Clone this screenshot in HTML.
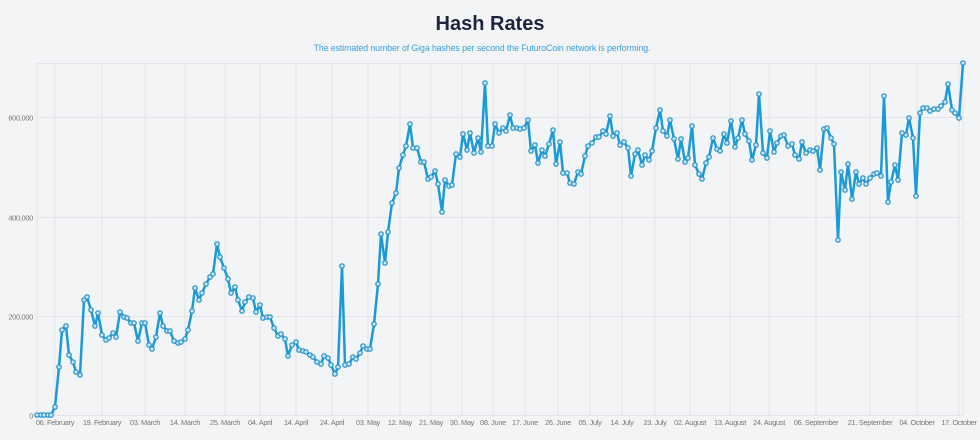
<!DOCTYPE html>
<html><head><meta charset="utf-8"><style>
body{margin:0;background:#f3f4f6;width:980px;height:435px;overflow:hidden;font-family:"Liberation Sans",sans-serif}
</style></head><body>
<svg id="s" width="980" height="435" xmlns="http://www.w3.org/2000/svg">
<rect width="980" height="435" fill="#f3f4f6"/>
<text x="490" y="30" text-anchor="middle" font-family="Liberation Sans,sans-serif" font-weight="bold" font-size="20" fill="#1c2540">Hash Rates</text>
<text x="482" y="51" text-anchor="middle" font-family="Liberation Sans,sans-serif" font-size="8.8" fill="#3a9fd8" letter-spacing="-0.1">The estimated number of Giga hashes per second the FuturoCoin network is performing.</text>
<g id="grid" stroke="#e2e4e7" stroke-width="1"></g>
<g id="lab" font-family="Liberation Sans,sans-serif" font-size="7.4" fill="#777" letter-spacing="-0.3"></g>
<polyline id="ln" fill="none" stroke="#1a9bd7" stroke-width="2.5" stroke-linejoin="round"/>
<g id="pts" fill="#cfe6f3" stroke="#1a8fcc" stroke-width="1.2"></g>
</svg>
<script>
var NS="http://www.w3.org/2000/svg";
function el(p,t,a,txt){var e=document.createElementNS(NS,t);for(var k in a)e.setAttribute(k,a[k]);if(txt)e.textContent=txt;document.getElementById(p).appendChild(e);}
var xs=[[55,"06. February"],[102,"19. February"],[145,"03. March"],[185,"14. March"],[225,"25. March"],[260,"04. April"],[296,"14. April"],[332,"24. April"],[368,"03. May"],[400,"12. May"],[431,"21. May"],[462,"30. May"],[493,"08. June"],[525,"17. June"],[558,"26. June"],[590,"05. July"],[622,"14. July"],[655,"23. July"],[690,"02. August"],[730,"13. August"],[769,"24. August"],[816,"06. September"],[870,"21. September"],[917,"04. October"],[959,"17. October"]];
el("grid","line",{x1:37,x2:37,y1:63,y2:415});el("grid","line",{x1:963,x2:963,y1:63,y2:415});el("grid","line",{x1:37,x2:963,y1:63.5,y2:63.5});
xs.forEach(function(a){el("grid","line",{x1:a[0],x2:a[0],y1:63,y2:415});el("lab","text",{x:a[0],y:425,"text-anchor":"middle"},a[1]);});
[[415.5,"0"],[316.5,"200,000"],[217.5,"400,000"],[117.5,"600,000"]].forEach(function(a){el("grid","line",{x1:37,x2:963,y1:a[0],y2:a[0]});el("lab","text",{x:33,y:a[0]+3,"text-anchor":"end"},a[1]);});
var d=[37,415,41,415,44,415,48,415,51,415,55,407,59,367,62,330,66,326,69,355,73,362,76,372,80,375,84,300,87,297,91,310,95,326,98,313,102,335,106,340,109,338,113,333,116,337,120,312,124,317,127,318,131,323,134,323,138,341,142,323,145,323,149,345,152,349,156,337,160,313,163,326,167,331,170,331,174,341,178,343,181,342,185,339,188,330,192,311,195,288,199,300,202,293,206,284,210,277,213,274,217,244,220,257,224,268,228,279,231,293,235,287,238,300,242,311,245,302,249,297,253,298,256,312,260,305,263,318,267,317,270,317,274,328,278,336,281,334,285,339,288,356,292,345,296,342,299,350,303,351,306,352,310,355,313,357,317,362,321,364,324,356,328,358,331,365,335,374,338,367,342,266,345,365,349,364,353,357,356,359,360,353,363,346,367,349,370,349,374,324,378,284,381,234,385,263,388,232,392,203,396,193,399,168,403,155,406,146,410,124,413,148,417,148,421,162,424,162,428,179,431,177,435,171,438,184,442,212,445,180,449,186,452,185,456,154,460,157,463,134,467,150,470,133,474,153,478,138,481,152,485,83,488,146,492,146,495,124,499,133,503,128,506,131,510,115,513,128,517,128,520,129,524,128,528,120,531,151,535,145,538,163,542,150,545,156,549,144,553,130,556,164,560,142,563,173,567,173,570,183,574,184,578,172,581,174,585,156,588,146,592,143,596,137,599,137,603,131,606,134,610,116,613,136,617,133,620,145,624,142,628,148,631,176,635,154,638,150,642,165,645,155,649,160,652,151,656,128,660,110,663,131,667,136,670,120,674,139,678,159,681,139,685,162,688,158,692,126,695,165,699,174,702,179,706,163,709,157,713,138,717,149,720,151,724,134,727,143,731,121,735,147,738,138,742,120,745,134,749,141,752,160,756,145,759,94,763,153,767,158,770,131,774,152,777,143,781,136,784,135,788,146,792,144,795,155,799,159,802,142,806,153,810,150,813,151,817,148,820,170,824,129,827,128,831,138,834,144,838,240,841,172,845,190,848,164,852,199,856,172,859,184,863,178,866,184,870,178,874,174,877,173,881,176,884,96,888,202,891,182,895,165,898,180,902,133,906,135,909,118,913,138,916,196,920,113,923,108,927,108,930,111,934,109,938,109,941,106,945,102,948,84,952,110,955,113,959,118,963,63];
var p=[];for(var i=0;i<d.length;i+=2){p.push(d[i]+","+d[i+1]);el("pts","circle",{cx:d[i],cy:d[i+1],r:2.2});}
document.getElementById("ln").setAttribute("points",p.join(" "));
</script>
</body></html>
